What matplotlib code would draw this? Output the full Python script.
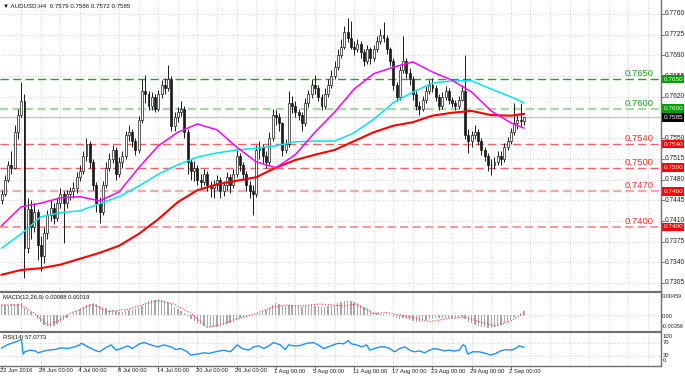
import matplotlib
matplotlib.use('Agg')
import matplotlib.pyplot as plt
from matplotlib.lines import Line2D
from matplotlib.patches import Rectangle
import numpy as np

plt.rcParams['font.family'] = ['Liberation Sans', 'DejaVu Sans']

# ------------------------------------------------------------------ data
symbol_title = '\u25BC AUDUSD,H4  0.7579 0.7586 0.7572 0.7585'
macd_title = 'MACD(12,26,9) 0.00088 0.00019'
rsi_title = 'RSI(14) 57.0773'

date_labels = ['22 Jun 2016', '28 Jun 00:00', '4 Jul 00:00', '8 Jul 00:00',
               '14 Jul 00:00', '20 Jul 00:00', '26 Jul 00:00', '1 Aug 00:00',
               '5 Aug 00:00', '11 Aug 00:00', '17 Aug 00:00', '23 Aug 00:00',
               '29 Aug 00:00', '2 Sep 00:00']
date_bars = [0, 12, 24, 36, 48, 60, 72, 84, 96, 108, 120, 132, 144, 156]

# prices in pips (7455 -> 0.7455); open of each bar = previous close
first_open = 7445
close = [7455, 7480, 7505, 7500, 7560, 7590, 7612, 7365, 7430, 7400,
         7425, 7370, 7350, 7390, 7420, 7432, 7415, 7440, 7455, 7440,
         7455, 7460, 7465, 7485, 7495, 7520, 7540, 7510, 7470, 7440,
         7425, 7470, 7500, 7515, 7530, 7490, 7510, 7520, 7555, 7560,
         7545, 7530, 7580, 7630, 7625, 7605, 7620, 7600, 7625, 7640,
         7635, 7650, 7570, 7585, 7595, 7600, 7560, 7510, 7495, 7500,
         7480, 7475, 7490, 7470, 7465, 7470, 7480, 7460, 7470, 7485,
         7470, 7490, 7520, 7505, 7490, 7470, 7460, 7455, 7530, 7535,
         7520, 7510, 7550, 7590, 7585, 7575, 7530, 7540, 7610, 7605,
         7595, 7590, 7575, 7610, 7625, 7640, 7635, 7620, 7605, 7625,
         7640, 7655, 7670, 7690, 7705, 7730, 7720, 7705, 7700, 7710,
         7695, 7680, 7700, 7685, 7700, 7715, 7725, 7720, 7700, 7680,
         7640, 7620, 7665, 7680, 7660, 7650, 7625, 7605, 7600, 7615,
         7630, 7640, 7635, 7620, 7605, 7620, 7630, 7615, 7610, 7605,
         7615, 7630, 7555, 7545, 7555, 7560, 7545, 7530, 7520, 7505,
         7505, 7510, 7520, 7515, 7535, 7545, 7560, 7575, 7580, 7579,
         7585]
high = [7462, 7488, 7512, 7528, 7572, 7600, 7645, 7625, 7448, 7445,
        7440, 7430, 7385, 7400, 7428, 7445, 7440, 7448, 7465, 7460,
        7462, 7468, 7475, 7492, 7505, 7528, 7550, 7545, 7515, 7475,
        7450, 7478, 7510, 7525, 7538, 7535, 7518, 7528, 7562, 7572,
        7565, 7550, 7588, 7650, 7657, 7630, 7628, 7625, 7632, 7648,
        7652, 7674, 7655, 7595, 7602, 7612, 7605, 7565, 7515, 7512,
        7505, 7490, 7498, 7495, 7478, 7480, 7488, 7485, 7478, 7492,
        7490, 7498, 7530, 7525, 7510, 7495, 7478, 7470, 7538, 7545,
        7540, 7528, 7560, 7600, 7598, 7592, 7578, 7548, 7630, 7622,
        7612, 7600, 7595, 7618, 7632, 7650, 7657, 7640, 7625, 7635,
        7650, 7665, 7680, 7700, 7718, 7740, 7753, 7748, 7715, 7718,
        7715, 7700, 7708, 7705, 7708, 7722, 7735, 7746, 7725, 7705,
        7685, 7645, 7672, 7722, 7685, 7668, 7655, 7630, 7612, 7622,
        7638, 7648, 7652, 7640, 7625, 7628, 7638, 7635, 7620, 7615,
        7622, 7640, 7690, 7565, 7562, 7572, 7565, 7550, 7535, 7525,
        7515, 7518, 7528, 7528, 7542, 7552, 7568, 7610, 7590, 7610,
        7586]
low = [7438, 7452, 7476, 7490, 7497, 7548, 7585, 7313, 7355, 7380,
       7392, 7344, 7325, 7338, 7380, 7410, 7405, 7410, 7432, 7372,
       7432, 7445, 7448, 7458, 7478, 7490, 7512, 7500, 7462, 7425,
       7407, 7420, 7465, 7495, 7508, 7479, 7485, 7500, 7515, 7545,
       7535, 7522, 7525, 7575, 7610, 7598, 7598, 7594, 7596, 7618,
       7625, 7630, 7562, 7562, 7578, 7588, 7550, 7490, 7480, 7478,
       7470, 7465, 7470, 7460, 7450, 7448, 7462, 7448, 7452, 7462,
       7458, 7465, 7485, 7495, 7480, 7460, 7448, 7420, 7450, 7515,
       7508, 7500, 7505, 7545, 7572, 7562, 7520, 7525, 7535, 7592,
       7585, 7580, 7562, 7570, 7602, 7618, 7625, 7612, 7598, 7600,
       7620, 7635, 7650, 7665, 7685, 7700, 7712, 7700, 7690, 7695,
       7685, 7672, 7675, 7675, 7680, 7695, 7710, 7712, 7692, 7672,
       7632, 7612, 7615, 7660, 7652, 7640, 7615, 7598, 7590, 7596,
       7610, 7625, 7628, 7612, 7598, 7600, 7615, 7608, 7602, 7598,
       7600, 7612, 7548, 7525, 7535, 7548, 7538, 7522, 7512, 7495,
       7487, 7498, 7505, 7505, 7510, 7530, 7540, 7555, 7565, 7570,
       7572]

# moving averages (pips), at these bars
ma_bars = [0, 6, 12, 18, 24, 30, 36, 42, 48, 54, 60, 66, 72, 78, 84, 90,
           96, 102, 108, 114, 120, 126, 132, 138, 144, 150, 156, 160]
ma_fast = [7402, 7434, 7440, 7449, 7451, 7444, 7459, 7500, 7537, 7560, 7574,
           7564, 7535, 7510, 7500, 7522, 7560, 7594, 7633, 7659, 7670, 7679,
           7662, 7648, 7628, 7596, 7576, 7567]
ma_mid = [7364, 7388, 7417, 7424, 7427, 7439, 7451, 7469, 7489, 7505, 7518,
          7525, 7530, 7533, 7537, 7544, 7545, 7545, 7559, 7582, 7610, 7628,
          7643, 7647, 7647, 7633, 7620, 7610]
ma_slow = [7319, 7327, 7330, 7336, 7346, 7356, 7368, 7388, 7413, 7442, 7462,
           7472, 7478, 7484, 7500, 7513, 7522, 7530, 7545, 7560, 7571, 7577,
           7588, 7593, 7596, 7589, 7588, 7591]

# MACD main (histogram), units of 1e-5
macd_main = [210, 215, 220, 225, 230, 240, 250, 150, 110, 60,
             0, -80, -150, -210, -240, -250, -230, -200, -160, -110,
             -60, -10, 40, 90, 130, 170, 210, 230, 240, 230,
             200, 170, 140, 110, 100, 80, 70, 70, 80, 100,
             110, 120, 150, 200, 260, 300, 320, 330, 340, 330,
             310, 280, 230, 180, 130, 90, 40, -20, -80, -130,
             -170, -200, -230, -250, -260, -260, -250, -240, -220, -200,
             -170, -140, -100, -70, -50, -30, -20, -10, 20, 50,
             80, 110, 150, 220, 250, 240, 200, 190, 210, 220,
             210, 200, 180, 190, 200, 210, 200, 190, 180, 180,
             190, 200, 220, 250, 270, 290, 300, 290, 270, 250,
             220, 180, 140, 100, 60, 40, 30, 30, 10, -10,
             -40, -70, -80, -60, -80, -110, -130, -140, -140, -130,
             -110, -90, -80, -70, -70, -70, -60, -60, -70, -70,
             -60, -40, -80, -140, -180, -210, -230, -250, -260, -270,
             -270, -260, -240, -210, -180, -140, -100, -50, 0, 50,
             88]
sig_bars = [0, 6, 10, 14, 17, 21, 28, 32.5, 38.6, 44.7, 47.8, 52.8, 57.9, 63,
            67, 71, 77.2, 83.3, 87.4, 91.5, 97.6, 104.7, 108.7, 113.8, 117.9,
            122, 127, 131.1, 137.2, 142.3, 146.3, 151.4, 155.5, 158.5, 160]
sig_vals = [214, 214, 36, -214, -143, 36, 235, 71, 121, 250, 307, 235, 36,
            -271, -214, -107, 14, 178, 214, 193, 235, 193, 235, 36, 50, 0,
            -71, -143, -71, -50, -143, -235, -143, -21, 19]

rsi_bars = [0, 1.5, 3, 4.6, 5.6, 6.1, 6.6, 7.1, 8.6, 10.2, 11.2, 12.2, 13.2,
            14.2, 16.3, 18.3, 20.3, 22.4, 23.9, 24.4, 25.4, 26.4, 28.5, 30,
            31.5, 33.5, 35.1, 36.6, 38.6, 40.1, 41.7, 42.7, 43.7, 45.7, 47.8,
            49.8, 51.8, 53.4, 54.9, 56.9, 57.9, 60, 62, 63.5, 65.5, 68.1, 70.1,
            72.2, 73.7, 75.7, 77.2, 78.8, 80.3, 82.3, 83.3, 85.4, 86.9, 87.9,
            89.4, 91.5, 93.5, 95.5, 97, 98.6, 100.1, 101.6, 103.2, 104.7,
            106.2, 107.2, 108.7, 110.3, 111.8, 112.8, 114.3, 115.9, 117.4,
            118.9, 120.4, 122, 123.5, 125, 126.5, 128, 129.6, 131.1, 132.6,
            134.1, 135.7, 137.2, 138.7, 140.2, 141.3, 142, 142.8, 144.3, 146.3,
            148.4, 149.9, 151.4, 152.9, 154.5, 156, 157.5, 158.5, 160]
rsi_vals = [54, 63, 69, 74, 79, 79, 36, 43, 48, 46, 40, 43, 46, 48, 50, 55, 53,
            58, 64, 69, 64, 58, 48, 43, 53, 64, 48, 53, 61, 53, 64, 69, 71, 64,
            58, 64, 58, 50, 53, 43, 33, 36, 40, 38, 43, 48, 43, 64, 53, 48, 58,
            61, 53, 64, 71, 64, 50, 64, 61, 62, 69, 71, 64, 53, 58, 64, 69, 67,
            77, 67, 64, 58, 64, 48, 53, 58, 58, 53, 43, 53, 58, 48, 43, 46, 40,
            48, 53, 50, 46, 48, 45, 48, 64, 61, 36, 43, 43, 38, 33, 38, 46, 50,
            48, 53, 61, 57]

price_ticks = [7305, 7340, 7375, 7410, 7445, 7480, 7515, 7550, 7585, 7620,
               7655, 7690, 7725, 7760]
levels = [7650, 7600, 7540, 7500, 7460, 7400]
level_texts = ['0.7650', '0.7600', '0.7540', '0.7500', '0.7470', '0.7400']
current_price = 7585

# ------------------------------------------------------------------ figure
W, H = 685, 377
fig = plt.figure(figsize=(W / 100, H / 100), dpi=100)
fig.patch.set_facecolor('white')


def rect(x0, y0, x1, y1):
    return [x0 / W, 1 - y1 / H, (x1 - x0) / W, (y1 - y0) / H]


def ftext(x, y, s, **kw):
    fig.text(x / W, 1 - y / H, s, **kw)


PLOT_R = 661
SPACING = 3.264
XLIM = (-0.5, -0.5 + PLOT_R / SPACING)

ax = fig.add_axes(rect(0, 0, PLOT_R, 291))
axm = fig.add_axes(rect(0, 293, PLOT_R, 331))
axr = fig.add_axes(rect(0, 333, PLOT_R, 366))

gcol = '#c4c4c4'
gls = (0, (1, 2))
vgrid = np.arange(6, XLIM[1], 6)
for a in (ax, axm, axr):
    a.set_xlim(*XLIM)
    for s in a.spines.values():
        s.set_visible(False)
    a.set_xticks([])
    a.set_yticks([])
    a.set_facecolor('white')
    for v in vgrid:
        a.axvline(v, color=gcol, lw=0.6, ls=gls, zorder=0)

# ---- main panel
ax.set_ylim(0.729146, 0.778368)
for p in price_ticks:
    ax.axhline(p / 1e4, color=gcol, lw=0.6, ls=gls, zorder=0)

ytr = ax.get_yaxis_transform()
for p in price_ticks:
    ax.plot([1, 1 + 3 / PLOT_R], [p / 1e4] * 2, transform=ytr, clip_on=False,
            color='#606060', lw=0.6, zorder=3)
    if p == current_price:
        continue  # hidden behind the current-price box
    ax.text(1 + 4 / PLOT_R, p / 1e4, '%.4f' % (p / 1e4), transform=ytr,
            fontsize=4.8, va='center', ha='left', color='#202020', clip_on=False)

ax.axhline(current_price / 1e4, color='#c8c8c8', lw=1.0, zorder=1)
lvl_style = [('#2e9e2e', 1.0, (6, 3)), ('#a8d8a8', 1.7, (3.5, 1.8)),
             ('#f26464', 1.0, (6, 3)), ('#f26464', 1.0, (6, 3)),
             ('#f7a8a8', 1.7, (3.5, 1.8)), ('#f48a8a', 1.2, (5, 2.5))]
lvl_text_col = ['#1f9a1f', '#1f9a1f', '#ff2a2a', '#ff2a2a', '#ff2a2a', '#ff2a2a']
lvl_box_col = ['#00a000', '#00a000', '#ff0000', '#ff0000', '#ff0000', '#ff0000']
for p, t, (col, lw, dash), tc in zip(levels, level_texts, lvl_style, lvl_text_col):
    ax.axhline(p / 1e4, color=col, lw=lw, dashes=dash, zorder=1.5)
    ax.text(654 / PLOT_R, p / 1e4 + 3 / 5912, t, transform=ytr, fontsize=6.8,
            color=tc, ha='right', va='baseline', zorder=4)

box_h = 8.5 / 5912
for p, bc in list(zip(levels, lvl_box_col)) + [(current_price, '#000000')]:
    ax.add_patch(Rectangle((1.0, p / 1e4 - box_h / 2), 23 / PLOT_R, box_h,
                           transform=ytr, clip_on=False, facecolor=bc,
                           edgecolor='none', zorder=6))
    ax.text(1 + 3 / PLOT_R, p / 1e4, '%.4f' % (p / 1e4), transform=ytr,
            fontsize=4.6, color='white', va='center', ha='left',
            clip_on=False, zorder=7)

# candles
idx = np.arange(len(close))
c = np.array(close) / 1e4
o = np.concatenate([[first_open], close[:-1]]) / 1e4
hh = np.array(high) / 1e4
ll = np.array(low) / 1e4
ax.vlines(idx, ll, hh, color='#1a1a1a', lw=0.7, zorder=2)
up = c >= o
blo = np.minimum(o, c)
bh = np.maximum(np.abs(c - o), 0.00002)
ax.bar(idx[up], bh[up], bottom=blo[up], width=0.6, color='white',
       edgecolor='#1a1a1a', lw=0.5, zorder=2.1)
ax.bar(idx[~up], bh[~up], bottom=blo[~up], width=0.6, color='#1a1a1a',
       edgecolor='#1a1a1a', lw=0.5, zorder=2.1)

ax.plot(ma_bars, np.array(ma_slow) / 1e4, color='#ff0000', lw=1.5, zorder=3)
ax.plot(ma_bars, np.array(ma_mid) / 1e4, color='#00e5ee', lw=1.1, zorder=3)
ax.plot(ma_bars, np.array(ma_fast) / 1e4, color='#ff00ff', lw=1.1, zorder=3)

# ---- MACD panel
axm.set_ylim(-342.4e-5, 470.8e-5)
axm.axhline(0, color=gcol, lw=0.6, ls=gls, zorder=0)
axm.bar(idx, np.array(macd_main) * 1e-5, width=0.4, color='#a8a8a8', zorder=2)
axm.plot(sig_bars, np.array(sig_vals) * 1e-5, color='#ff3030', lw=0.8,
         ls=(0, (1, 1.5)), zorder=3)

# ---- RSI panel
axr.set_ylim(0, 100)
for lv in (70, 30):
    axr.axhline(lv, color=gcol, lw=0.6, ls=gls, zorder=0)
axr.plot(rsi_bars, rsi_vals, color='#1e90ff', lw=1.0, zorder=3)

# ---- frame lines
fig.add_artist(Line2D([PLOT_R / W] * 2, [1, 1 - 366 / H], color='#707070', lw=1.0))
for yy, lw in ((291.5, 1.6), (332, 1.6), (366, 1.0)):
    fig.add_artist(Line2D([0, PLOT_R / W], [1 - yy / H] * 2, color='#707070', lw=lw))

# ---- texts
ftext(3, 6, symbol_title, fontsize=4.4, va='center', ha='left', color='#111111')
ftext(3, 297, macd_title, fontsize=4.2, va='center', ha='left', color='#111111')
ftext(3, 337, rsi_title, fontsize=4.2, va='center', ha='left', color='#111111')

for t, y in (('0.00459', 297), ('0.00', 316), ('-0.00356', 327)):
    ftext(662, y, t, fontsize=4.0, va='center', ha='left', color='#202020')
for t, y in (('100', 336.5), ('70', 342), ('30', 355.5), ('0', 360.5)):
    ftext(663, y, t, fontsize=4.2, va='center', ha='left', color='#202020')

xtr = axr.get_xaxis_transform()
for lab, b in zip(date_labels, date_bars):
    axr.plot([b, b], [0, -3 / 33], transform=xtr, clip_on=False,
             color='#606060', lw=0.6)
    axr.text(b - 0.5, -5 / 33, lab, transform=xtr, fontsize=4.2, ha='left',
             va='center', color='#202020', clip_on=False)

fig.savefig('out.png', dpi=100, facecolor='white')
